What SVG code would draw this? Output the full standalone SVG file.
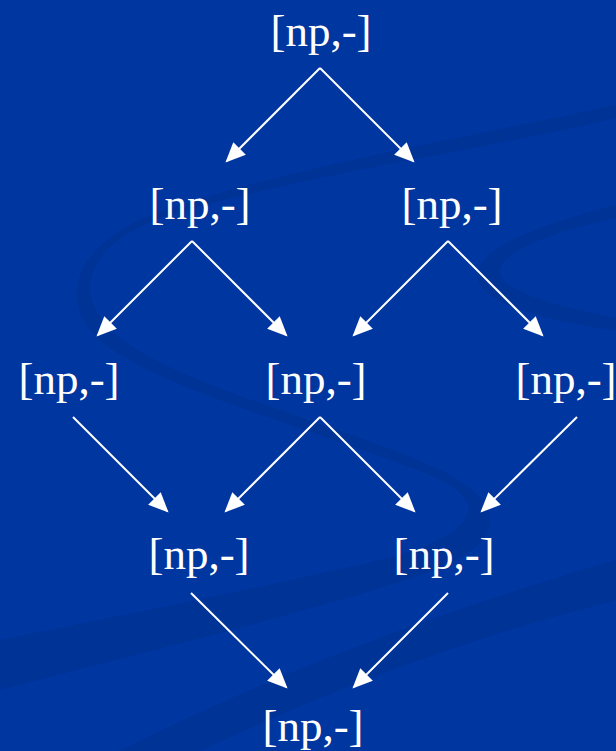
<svg xmlns="http://www.w3.org/2000/svg" width="616" height="751" viewBox="0 0 616 751">
<defs>
<style>
.lbl{font-family:"Liberation Serif","Times New Roman",serif;font-size:45px;fill:#ffffff;text-anchor:middle}
.edge{stroke:#ffffff;stroke-width:2;fill:none;marker-end:url(#ah)}
.sw{fill:#00308c;opacity:0.5}
</style>
<marker id="ah" markerWidth="10" markerHeight="10" refX="8" refY="4" orient="auto" markerUnits="strokeWidth" viewBox="0 0 9 8">
<path d="M0,0 L9,4 L0,8 z" fill="#ffffff"/>
</marker>
</defs>
<rect width="616" height="751" fill="#0036a0"/>
<g id="background">
<path class="sw" d="M616,118 C480,150 300,175 170,215 C90,240 70,290 110,330 C170,385 330,420 440,470 C510,505 510,545 420,575 C300,615 150,650 0,690 L0,640 C150,610 300,580 400,555 C480,530 490,500 430,475 C320,430 160,390 100,340 C55,300 75,240 165,210 C300,165 480,135 616,105 z"/>
<path class="sw" d="M616,205 C560,220 490,240 478,270 C470,300 540,320 616,330 L616,318 C550,305 495,290 500,268 C510,245 570,228 616,218 z"/>
<path class="sw" d="M616,560 C480,600 300,660 120,751 L200,751 C350,680 480,635 616,600 z"/>
</g>
<g id="connectors">
<line class="edge" x1="320" y1="68" x2="227" y2="161"/>
<line class="edge" x1="320" y1="68" x2="413" y2="161"/>
<line class="edge" x1="192" y1="241" x2="98" y2="335"/>
<line class="edge" x1="192" y1="241" x2="286" y2="335"/>
<line class="edge" x1="448" y1="241" x2="354" y2="335"/>
<line class="edge" x1="448" y1="241" x2="542" y2="335"/>
<line class="edge" x1="73" y1="417" x2="167" y2="511"/>
<line class="edge" x1="320" y1="417" x2="226" y2="511"/>
<line class="edge" x1="320" y1="417" x2="414" y2="511"/>
<line class="edge" x1="577" y1="417" x2="482" y2="511"/>
<line class="edge" x1="191" y1="593" x2="286" y2="687"/>
<line class="edge" x1="448" y1="593" x2="354" y2="687"/>
</g>
<g id="n1"><text class="lbl" x="321" y="46">[np,-]</text></g>
<g id="n2"><text class="lbl" x="200" y="219">[np,-]</text></g>
<g id="n3"><text class="lbl" x="452" y="219">[np,-]</text></g>
<g id="n4"><text class="lbl" x="69" y="394">[np,-]</text></g>
<g id="n5"><text class="lbl" x="316" y="394">[np,-]</text></g>
<g id="n6"><text class="lbl" x="566" y="394">[np,-]</text></g>
<g id="n7"><text class="lbl" x="199" y="569">[np,-]</text></g>
<g id="n8"><text class="lbl" x="444" y="569">[np,-]</text></g>
<g id="n9"><text class="lbl" x="313" y="741">[np,-]</text></g>
</svg>
